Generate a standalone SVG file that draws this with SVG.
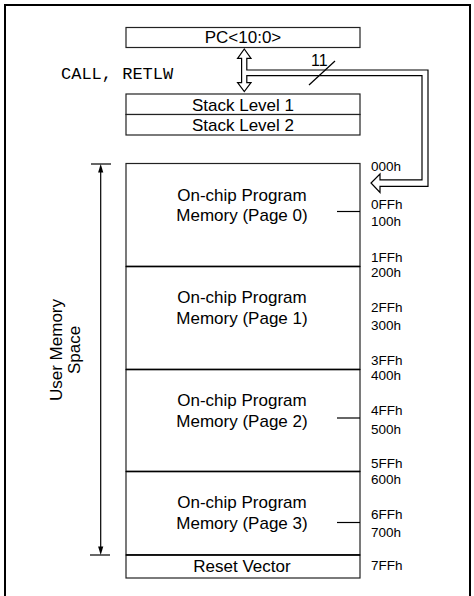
<svg xmlns="http://www.w3.org/2000/svg" width="474" height="596" viewBox="0 0 474 596">
<style>
.box{fill:#fff;stroke:#222;stroke-width:1.2}
.div{stroke:#000;stroke-width:1.6}
.t{font-family:"Liberation Sans",Arial,sans-serif;font-size:17px;fill:#000;text-anchor:middle}
.a{font-family:"Liberation Sans",Arial,sans-serif;font-size:13.5px;fill:#000}
.n{font-family:"Liberation Sans",Arial,sans-serif;font-size:16px;fill:#000}
.m{font-family:"Liberation Mono","Courier New",monospace;font-size:17px;fill:#000}
.ln{stroke:#000;stroke-width:1.2;fill:none}
</style>
<rect width="474" height="596" fill="#fff"/>
<path d="M5,596 V5 H470 V596" fill="none" stroke="#000" stroke-width="2"/>

<g id="pc">
<rect class="box" x="126" y="27.5" width="234" height="20"/>
<text class="t" x="243" y="43">PC&lt;10:0&gt;</text>
</g>

<text class="m" x="61" y="79">CALL, RETLW</text>

<g id="stack1">
<rect class="box" x="126" y="94" width="234" height="20.5"/>
<text class="t" x="243" y="110.5">Stack Level 1</text>
</g>
<g id="stack2">
<rect class="box" x="126" y="114.5" width="234" height="20.5"/>
<text class="t" x="243" y="131">Stack Level 2</text>
</g>

<g id="page0">
<rect class="box" x="126" y="163.5" width="234" height="103"/>
<text class="t" x="242" y="200.5">On-chip Program</text>
<text class="t" x="242" y="221">Memory (Page 0)</text>
</g>
<g id="page1">
<rect class="box" x="126" y="266.5" width="234" height="103"/>
<text class="t" x="242" y="303">On-chip Program</text>
<text class="t" x="242" y="323.5">Memory (Page 1)</text>
</g>
<g id="page2">
<rect class="box" x="126" y="369.5" width="234" height="102"/>
<text class="t" x="242" y="406">On-chip Program</text>
<text class="t" x="242" y="426.5">Memory (Page 2)</text>
</g>
<g id="page3">
<rect class="box" x="126" y="471.5" width="234" height="83.5"/>
<text class="t" x="242" y="507.5">On-chip Program</text>
<text class="t" x="242" y="528.5">Memory (Page 3)</text>
</g>
<g id="reset">
<rect class="box" x="126" y="555" width="234" height="23"/>
<text class="t" x="242" y="572">Reset Vector</text>
</g>
<g id="dividers">
<line class="div" x1="126" y1="266.5" x2="360" y2="266.5"/>
<line class="div" x1="126" y1="369.5" x2="360" y2="369.5"/>
<line class="div" x1="126" y1="471.5" x2="360" y2="471.5"/>
<line class="div" x1="126" y1="555" x2="360" y2="555"/>
</g>
<g id="ticks" class="ln">
<line x1="337" y1="211.5" x2="360" y2="211.5"/>
<line x1="337" y1="418" x2="360" y2="418"/>
<line x1="337" y1="522.5" x2="360" y2="522.5"/>
</g>

<g id="addresses">
<text class="a" x="371" y="171">000h</text>
<text class="a" x="371" y="208.5">0FFh</text>
<text class="a" x="371" y="226">100h</text>
<text class="a" x="371" y="261.5">1FFh</text>
<text class="a" x="371" y="276.5">200h</text>
<text class="a" x="371" y="312">2FFh</text>
<text class="a" x="371" y="330">300h</text>
<text class="a" x="371" y="364.5">3FFh</text>
<text class="a" x="371" y="380">400h</text>
<text class="a" x="371" y="415">4FFh</text>
<text class="a" x="371" y="433.5">500h</text>
<text class="a" x="371" y="468">5FFh</text>
<text class="a" x="371" y="483.5">600h</text>
<text class="a" x="371" y="518.5">6FFh</text>
<text class="a" x="371" y="537">700h</text>
<text class="a" x="371" y="569.5">7FFh</text>
</g>

<g id="user-space-label">
<text class="t" transform="translate(61.5,350) rotate(-90)" x="0" y="0">User Memory</text>
<text class="t" transform="translate(80,350) rotate(-90)" x="0" y="0">Space</text>
</g>

<g id="connectors">
<path d="M244.3,49 L251,58.3 L246.8,58.3 L246.8,70 L428,70 L428,186.3 L380,186.3 L380,192.5 L371,183 L380,174 L380,179.8 L422,179.8 L422,75.7 L246.8,75.7 L246.8,82.7 L251,82.7 L244.3,91.5 L237.6,82.7 L241.6,82.7 L241.6,58.3 L237.6,58.3 Z" fill="#fff" stroke="#000" stroke-width="1.2" stroke-linejoin="miter"/>
<line class="ln" x1="309" y1="85" x2="335" y2="61"/>
<text class="n" x="311" y="66">11</text>
<line class="ln" x1="100.7" y1="170" x2="100.7" y2="549"/>
<line class="ln" x1="91" y1="164" x2="111" y2="164"/>
<line class="ln" x1="90" y1="555" x2="110" y2="555"/>
<path d="M100.7,164 L103.3,172.5 L98.1,172.5 Z" fill="#000"/>
<path d="M100.7,555 L103.3,546.5 L98.1,546.5 Z" fill="#000"/>
</g>
</svg>
